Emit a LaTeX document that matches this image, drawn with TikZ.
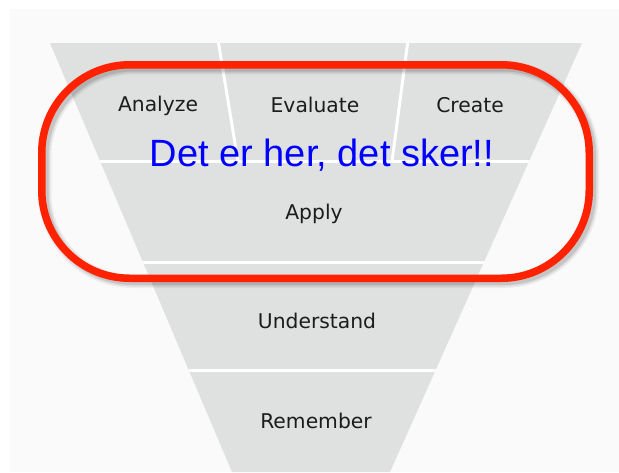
\documentclass[tikz,border=0pt]{standalone}
\usepackage{fontspec}
\setmainfont{DejaVu Sans}
\newfontfamily\bigfont{Liberation Sans}
\usepackage{xcolor}
\usepackage{tikz}
\definecolor{funnelgray}{HTML}{DFE0E0}
\definecolor{pagegray}{HTML}{FAFAFA}
\definecolor{ringred}{HTML}{FF2200}
\definecolor{labelgray}{HTML}{1C1C1C}

\begin{document}
\begin{tikzpicture}[x=1pt,y=-1pt,
  lvl/.style={font=\fontsize{20.3}{24}\selectfont,text=labelgray,anchor=base,inner sep=0pt},
  gap/.style={white,line width=3pt}]
  \useasboundingbox (0,0) rectangle (619,472);
  \fill[pagegray] (10,9) rectangle (619,472);
  % funnel
  \fill[funnelgray] (50,43) -- (582,43) -- (390,472) -- (232,472) -- cycle;
  \begin{scope}
    \clip (50,43) -- (582,43) -- (390,472) -- (232,472) -- cycle;
    \foreach \y in {161.5,262,370}
      \draw[gap] (0,\y) -- (619,\y);
    \draw[gap] (218,40) -- (238,161.5);
    \draw[gap] (408,40) -- (392,161.5);
  \end{scope}
  \foreach \x/\y/\n/\t in {158/111/ana/Analyze,315/112/eva/Evaluate,470/112/cre/Create,
                           314/219/app/Apply,317/328/und/Understand,316/428/rem/Remember}
    \node[lvl] (\n) at (\x,\y) {\t};
  % red ring with soft shadow
  \foreach \o/\w in {0.05/13,0.07/10,0.1/7}
    \draw[black,opacity=\o,line width=\w pt,rounded corners=88pt]
      (45,68) rectangle (592.5,281.5);
  \draw[ringred,line width=7.5pt,rounded corners=88pt] (41.75,64.75) rectangle (589.25,278.25);
  \node[font=\bigfont\fontsize{38}{44}\selectfont,text=blue,anchor=base,inner sep=0pt] (here) at (322,166) {Det er her, det sker!!};
\end{tikzpicture}
\end{document}
